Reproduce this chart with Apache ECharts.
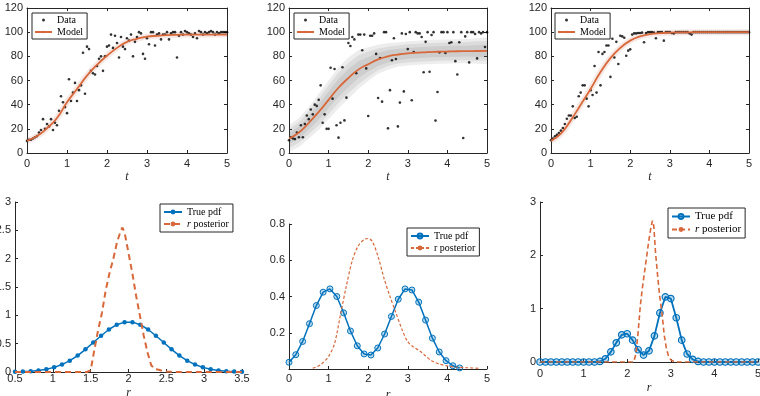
<!DOCTYPE html>
<html>
<head>
<meta charset="utf-8">
<title>Logistic model fits and r posteriors</title>
<script src="https://cdn.jsdelivr.net/npm/echarts@6/dist/echarts.min.js"></script>
<style>
html, body { margin: 0; padding: 0; background: #fff; }
#main { width: 760px; height: 396px; }
</style>
</head>
<body>
<div id="main"></div>
<script>
// observation times (top row)
var tObs = [0,0.05,0.1,0.15,0.2,0.25,0.3,0.35,0.4,0.45,0.5,0.55,0.6,0.65,0.7,0.75,0.8,0.85,0.9,0.95,
  1,1.05,1.1,1.15,1.2,1.25,1.3,1.35,1.4,1.45,1.5,1.55,1.6,1.65,1.7,1.75,1.8,1.85,1.9,1.95,
  2,2.05,2.1,2.15,2.2,2.25,2.3,2.35,2.4,2.45,2.5,2.55,2.6,2.65,2.7,2.75,2.8,2.85,2.9,2.95,
  3,3.05,3.1,3.15,3.2,3.25,3.3,3.35,3.4,3.45,3.5,3.55,3.6,3.65,3.7,3.75,3.8,3.85,3.9,3.95,
  4,4.05,4.1,4.15,4.2,4.25,4.3,4.35,4.4,4.45,4.5,4.55,4.6,4.65,4.7,4.75,4.8,4.85,4.9,4.95,5];

// data points, left / middle / right panels
var obs1 = [10,11,11,12,13,14,17,19,28,20, 24,22,28,19,25,23,35,47,42,38,
  33,61,43,50,58,43,52,56,83,49, 88,86,68,66,65,72,78,80,68,80,
  88,89,98,87,97,91,79,96,88,86, 95,93,98,80,92,96,100,99,82,78,
  95,90,100,100,89,98,99,94,98,98, 100,94,99,100,100,79,97,100,98,101,
  100,99,98,96,99,95,101,100,98,100, 99,100,101,100,98,100,99,100,100,100, 100];
var obs2 = [10.5,13,12,11.5,17,13,23,13,24,31, 28,36,32,40,39,44,56,25,32,20,
  20,70.6,45,69.5,23,12.7,25,71,27,45.8, 91,88.6,96,94,66,98,98,85,98,70,
  30.6,97,97,99,82,45.5,78.6,42.5,100,100, 20.4,52,76.7,95,77.8,22,41.7,99,51,98.5,
  86,100,43.6,83.6,100,99,99,96,66.8,92, 100,67.3,97.7,100,26.8,50.5,83.3,100,100,82.8,
  100,91,91.6,100,76,65,91.6,100,12.4,96.5, 100,75,100,100,98.5,78.3,100,99,100,87.7, 100];
var obs3 = [10.5,12,13.8,15,16.5,18.5,20.7,24,28.4,31, 31,38.6,29,30,47,50,56,56,45,38.6,
  52,48,72,50,83.6,56,82,83.6,89,89, 63,94.6,79,92,73.7,97,96.5,95.4,80.5,84.7,
  85.8,98,99,99,99.3,99.3,99.6,91.6,99.3,100, 100,100,99.6,95,100,100,100,93,100,100,
  100,99.3,99,100,100,100,100,100,100,100, 99,98,100,100,100,100,100,100,100,100,
  100,100,100,100,100,100,100,100,100,100, 100,100,100,100,100,100,100,100,100,100, 100];

// fitted model curves
var tModel = [0,0.25,0.5,0.75,1,1.25,1.5,1.75,2,2.25,2.5,2.75,3,3.25,3.5,3.75,4,4.25,4.5,4.75,5];
var model1 = [10,14,20.5,29,42,53,64,73,80.5,87,92,94.5,96.3,97,97.5,97.8,98,98,98,98,98];
var model2 = [12,17,25,34,44,54,62,69,73.5,77.5,80,81.5,82.5,83,83.5,83.8,84,84.2,84.3,84.4,84.5];
var model3 = [10,16,27,40,53,67,78.5,87,93,96.5,98.3,99.2,99.6,99.8,99.9,100,100,100,100,100,100];
// half widths of the grey band, middle panel
var band2Outer = [11,12,13,15,16,17,17,16,14,12,11,10,10,10,10,10,10,10,10,10.5,11];
var band2Mid = [8,8.5,9.5,11,12,12.5,12.5,12,10.5,9,8,7.5,7.5,7.5,7.5,7.5,7.5,7.5,7.5,8,8];
var band2Inner = [4.5,5,5.5,6.5,7,7.5,7.5,7,6,5.5,5,4.5,4.5,4.5,4.5,4.5,4.5,4.5,4.5,5,5];

// bottom row: true pdf samples and r posteriors
var r4 = [0.5,0.603,0.707,0.81,0.914,1.017,1.121,1.224,1.328,1.431,1.534,1.638,1.741,1.845,1.948,
  2.052,2.155,2.259,2.362,2.466,2.569,2.672,2.776,2.879,2.983,3.086,3.19,3.293,3.397,3.5];
var pdf4 = [0.003,0.007,0.014,0.027,0.048,0.082,0.131,0.2,0.29,0.4,0.52,0.64,0.75,0.835,0.88,
  0.88,0.835,0.75,0.64,0.52,0.4,0.29,0.2,0.131,0.082,0.048,0.027,0.014,0.007,0.003];
var post4R = [0.5,1.45,1.5,1.55,1.6,1.65,1.7,1.75,1.8,1.85,1.9,1.92,1.95,2,2.05,2.1,2.15,2.2,2.25,2.3,2.35,2.4,2.45,2.5,2.6,3.5];
var post4 = [0,0,0.03,0.4,0.75,1.05,1.45,1.75,2,2.3,2.5,2.55,2.45,2.1,1.75,1.35,1,0.65,0.35,0.12,0.05,0.04,0.02,0.01,0,0];

var r5 = [0,0.172,0.345,0.517,0.69,0.862,1.034,1.207,1.379,1.552,1.724,1.897,2.069,2.241,2.414,2.586,
  2.759,2.931,3.103,3.276,3.448,3.621,3.793,3.966,4.138,4.31];
var pdf5 = [0.037,0.079,0.152,0.25,0.35,0.424,0.442,0.4,0.31,0.21,0.128,0.083,0.077,0.116,0.193,0.29,
  0.385,0.442,0.436,0.369,0.27,0.17,0.094,0.046,0.018,0.006];
var post5R = [0.6,0.8,1,1.15,1.3,1.45,1.6,1.75,1.9,2,2.1,2.25,2.4,2.55,2.7,2.85,3,3.15,3.3,3.45,3.6,3.8,4,4.2,4.5,4.8];
var post5 = [0.004,0.024,0.07,0.14,0.3,0.46,0.6,0.68,0.715,0.72,0.705,0.62,0.5,0.4,0.31,0.22,0.15,0.12,0.1,0.072,0.046,0.027,0.017,0.011,0.007,0.004];

var r6 = [0,0.125,0.25,0.375,0.5,0.625,0.75,0.875,1,1.125,1.25,1.375,1.5,1.625,1.75,1.875,2,2.125,2.25,2.375,
  2.5,2.625,2.75,2.875,3,3.125,3.25,3.375,3.5,3.625,3.75,3.875,4,4.125,4.25,4.375,4.5,4.625,4.75,4.875,5];
var pdf6 = [0,0,0,0,0,0,0,0,0,0,0,0.01,0.06,0.19,0.36,0.51,0.53,0.41,0.23,0.13,
  0.21,0.49,0.92,1.22,1.19,0.83,0.41,0.15,0.05,0.01,0,0,0,0,0,0,0,0,0,0,0];
var post6R = [0,2.15,2.2,2.25,2.3,2.35,2.4,2.45,2.5,2.55,2.58,2.61,2.65,2.7,2.75,2.8,2.85,2.9,2.95,3,3.1,5];
var post6 = [0,0,0.15,0.55,1.05,1.4,1.7,2,2.3,2.55,2.65,2.55,2.05,1.6,1.2,0.9,0.5,0.25,0.1,0.04,0,0];

var legendLabels = {
  pdf4: 'True pdf', post4: '{i|r} posterior',
  pdf5: 'True pdf', post5: 'r posterior',
  pdf6: 'True pdf', post6: '{i|r} posterior'
};

var ink = '#262626';
var orange = '#d8683a';
var blue = '#0072bd';

function pairs(xs, ys) {
  return xs.map(function (x, i) { return [x, ys[i]]; });
}

function xAx(grid, min, max, step, o) {
  o = o || {};
  return {
    type: 'value', gridIndex: grid, min: min, max: max, interval: step,
    position: o.top ? 'top' : 'bottom',
    axisLine: { onZero: false, lineStyle: { color: ink, width: 1 } },
    axisTick: { inside: true, length: 3, lineStyle: { color: ink } },
    axisLabel: { show: !o.top, margin: o.margin == null ? 5 : o.margin, color: ink, fontFamily: 'Liberation Sans', fontSize: 11 },
    splitLine: { show: false },
    name: o.name || '', nameLocation: 'middle', nameGap: o.nameGap || 18,
    nameTextStyle: { fontFamily: 'Liberation Serif', fontStyle: 'italic', fontSize: 12, color: ink }
  };
}
function yAx(grid, min, max, step, o) {
  o = o || {};
  return {
    type: 'value', gridIndex: grid, min: min, max: max, interval: step,
    position: o.right ? 'right' : 'left',
    axisLine: { show: true, onZero: false, lineStyle: { color: ink, width: 1 } },
    axisTick: { show: true, inside: true, length: 3, lineStyle: { color: ink } },
    axisLabel: { show: !o.right, margin: 4, showMinLabel: o.hideMin ? false : true,
      color: ink, fontFamily: 'Liberation Sans', fontSize: 11 },
    splitLine: { show: false }
  };
}

function topLegend(left) {
  return {
    left: left, top: 13, orient: 'vertical',
    itemWidth: 17, itemHeight: 3, itemGap: 2,
    padding: [2, 4, 2, 2],
    borderColor: ink, borderWidth: 1, backgroundColor: '#fff',
    textStyle: { fontFamily: 'Liberation Serif', fontSize: 10, color: '#000', lineHeight: 10 },
    data: [{ name: 'Data', icon: 'circle' }, 'Model']
  };
}
function bottomLegend(left, top, pdfName, postName, size) {
  return {
    left: left, top: top, orient: 'vertical',
    itemWidth: 18, itemHeight: 6, itemGap: 2,
    padding: [3, 4, 3, 3],
    borderColor: ink, borderWidth: 1, backgroundColor: '#fff',
    formatter: function (name) { return legendLabels[name]; },
    textStyle: { fontFamily: 'Liberation Serif', fontSize: size, color: '#000',
      rich: { i: { fontFamily: 'Liberation Serif', fontStyle: 'italic', fontSize: size, color: '#000' } } },
    data: [pdfName, postName]
  };
}

function topSeries(ax, obs, model, glow) {
  var list = [];
  if (glow) {
    list.push({ type: 'line', xAxisIndex: ax, yAxisIndex: ax, data: pairs(tModel, model), smooth: true,
      symbol: 'none', silent: true, z: 2,
      lineStyle: { color: 'rgba(205,130,105,0.18)', width: 6 } });
  }
  list.push(
    { name: 'Data', type: 'scatter', xAxisIndex: ax, yAxisIndex: ax, data: pairs(tObs, obs),
      symbolSize: 2.6, itemStyle: { color: '#000' }, z: 3 },
    { name: 'Model', type: 'line', xAxisIndex: ax, yAxisIndex: ax, data: pairs(tModel, model), smooth: true,
      symbol: 'none', z: 4, itemStyle: { color: orange }, lineStyle: { color: orange, width: 1.8 } }
  );
  return list;
}

// grey credible band drawn as one polygon through the axis scales
function bandSeries(ax, model, half) {
  return {
    type: 'custom', xAxisIndex: ax, yAxisIndex: ax, silent: true, z: 1,
    data: tModel.map(function (t, i) { return [t, model[i] - half[i], model[i] + half[i]]; }),
    encode: { x: 0, y: [1, 2] },
    renderItem: function (params, api) {
      if (params.dataIndex !== 0) return null;
      var upper = tModel.map(function (t, i) { return api.coord([t, model[i] + half[i]]); });
      var lower = tModel.map(function (t, i) { return api.coord([t, model[i] - half[i]]); }).reverse();
      return {
        type: 'polygon',
        shape: { points: upper.concat(lower) },
        style: { fill: 'rgba(80,80,80,0.1)' }
      };
    }
  };
}

var series = [];
series = series.concat(topSeries(0, obs1, model1, true));
series.push(bandSeries(2, model2, band2Outer), bandSeries(2, model2, band2Mid), bandSeries(2, model2, band2Inner));
series = series.concat(topSeries(2, obs2, model2, false));
series = series.concat(topSeries(4, obs3, model3, true));

series.push(
  { name: 'pdf4', type: 'line', xAxisIndex: 6, yAxisIndex: 6, data: pairs(r4, pdf4),
    symbol: 'circle', symbolSize: 4.5, z: 3,
    itemStyle: { color: blue }, lineStyle: { color: blue, width: 1.5 } },
  { name: 'post4', type: 'line', xAxisIndex: 6, yAxisIndex: 6, data: pairs(post4R, post4),
    symbol: 'none', z: 4, itemStyle: { color: orange },
    lineStyle: { color: orange, width: 2, type: [6, 4] } },
  { name: 'pdf5', type: 'line', xAxisIndex: 7, yAxisIndex: 7, data: pairs(r5, pdf5),
    symbol: 'circle', symbolSize: 6, z: 3,
    itemStyle: { color: 'rgba(0,114,189,0.25)', borderColor: blue, borderWidth: 1 },
    lineStyle: { color: blue, width: 1.5 } },
  { name: 'post5', type: 'line', xAxisIndex: 7, yAxisIndex: 7, data: pairs(post5R, post5),
    symbol: 'none', smooth: 0.3, z: 4, itemStyle: { color: orange },
    lineStyle: { color: orange, width: 1.2, type: [3, 2] } },
  { name: 'pdf6', type: 'line', xAxisIndex: 8, yAxisIndex: 8, data: pairs(r6, pdf6),
    symbol: 'circle', symbolSize: 6.5, z: 3,
    itemStyle: { color: 'rgba(0,114,189,0.25)', borderColor: blue, borderWidth: 1.2 },
    lineStyle: { color: blue, width: 1.8 } },
  { name: 'post6', type: 'line', xAxisIndex: 8, yAxisIndex: 8, data: pairs(post6R, post6),
    symbol: 'none', z: 4, itemStyle: { color: orange },
    lineStyle: { color: orange, width: 1.6, type: [5, 3] } }
);

var myChart = echarts.init(document.getElementById('main'), null, { renderer: 'canvas' });
var option = {
  animation: false,
  backgroundColor: '#fff',
  grid: [
    { left: 27, top: 8, width: 200, height: 145, outerBoundsMode: 'none' },
    { left: 289, top: 8, width: 198, height: 145, outerBoundsMode: 'none' },
    { left: 551, top: 8, width: 198, height: 145, outerBoundsMode: 'none' },
    { left: 15, top: 202, width: 227, height: 170, outerBoundsMode: 'none' },
    { left: 289, top: 224, width: 198, height: 145, outerBoundsMode: 'none' },
    { left: 540, top: 202, width: 218, height: 160, outerBoundsMode: 'none' }
  ],
  xAxis: [
    xAx(0, 0, 5, 1, { name: 't' }), xAx(0, 0, 5, 1, { top: true }),
    xAx(1, 0, 5, 1, { name: 't' }), xAx(1, 0, 5, 1, { top: true }),
    xAx(2, 0, 5, 1, { name: 't' }), xAx(2, 0, 5, 1, { top: true }),
    xAx(3, 0.5, 3.5, 0.5, { name: 'r', margin: 1, nameGap: 15 }),
    xAx(4, 0, 5, 1, { name: 'r', margin: 4, nameGap: 20 }),
    xAx(5, 0, 5, 1, { name: 'r', margin: 6, nameGap: 20 })
  ],
  yAxis: [
    yAx(0, 0, 120, 20), yAx(0, 0, 120, 20, { right: true }),
    yAx(1, 0, 120, 20), yAx(1, 0, 120, 20, { right: true }),
    yAx(2, 0, 120, 20), yAx(2, 0, 120, 20, { right: true }),
    yAx(3, 0, 3, 0.5),
    yAx(4, 0, 0.8, 0.2, { hideMin: true }),
    yAx(5, 0, 3, 1)
  ],
  legend: [
    topLegend(32), topLegend(294), topLegend(555),
    bottomLegend(160, 204, 'pdf4', 'post4', 10),
    bottomLegend(407, 228, 'pdf5', 'post5', 10),
    bottomLegend(668, 208, 'pdf6', 'post6', 11)
  ],
  series: series
};
myChart.setOption(option);
</script>
</body>
</html>
